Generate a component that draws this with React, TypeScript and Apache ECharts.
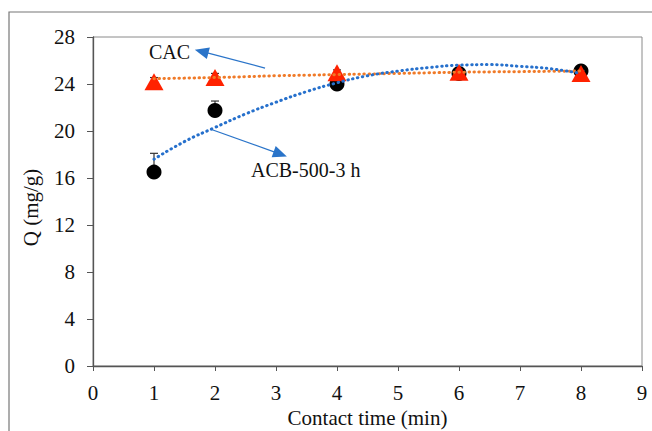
import React, { useEffect, useRef } from "react";
import * as echarts from "echarts";

const contactTime = [1, 2, 4, 6, 8];
const acbQ = [16.5, 21.75, 24.0, 24.9, 25.1];
const acbErrHi = [18.1, 22.55, 24.4, 25.2, 25.4];
const cacQ = [24.2, 24.55, 24.95, 25.0, 24.9];
const cacErrHi = [24.55, 24.9, 25.2, 25.25, 25.15];

const trendX = [1, 1.5, 2, 2.5, 3, 3.5, 4, 4.5, 5, 5.5, 6, 6.5, 7, 7.5, 8];
const acbTrend = [17.6, 19.1, 20.3, 21.45, 22.45, 23.35, 24.1, 24.7, 25.1, 25.4, 25.6, 25.65, 25.5, 25.3, 24.9];
const cacTrend = [24.45, 24.5, 24.55, 24.62, 24.7, 24.75, 24.8, 24.85, 24.9, 24.95, 25.0, 25.03, 25.05, 25.08, 25.1];

const xTicks = [0, 1, 2, 3, 4, 5, 6, 7, 8, 9];
const yTicks = [0, 4, 8, 12, 16, 20, 24, 28];

const FONT = "'Liberation Serif', 'Times New Roman', serif";

export default function App() {
  const ref = useRef<HTMLDivElement>(null);
  useEffect(() => {
    if (!ref.current) return;
    const chart = echarts.init(ref.current, null, { renderer: "svg" });
    const errRender = (color: string) => (params: any, api: any) => {
      const x = api.value(0);
      const lo = api.value(1);
      const hi = api.value(2);
      const p1 = api.coord([x, lo]);
      const p2 = api.coord([x, hi]);
      return {
        type: "group",
        children: [
          { type: "line", shape: { x1: p1[0], y1: p1[1], x2: p2[0], y2: p2[1] }, style: { stroke: color, lineWidth: 1.2 } },
          { type: "line", shape: { x1: p2[0] - 4, y1: p2[1], x2: p2[0] + 4, y2: p2[1] }, style: { stroke: color, lineWidth: 1.2 } },
        ],
      };
    };
    chart.setOption({
      animation: false,
      backgroundColor: "#fff",
      grid: {
        left: 93, top: 37, right: 10, bottom: 65,
        show: true, borderColor: "#8a8a8a", borderWidth: 1,
        outerBoundsMode: "none", containLabel: false,
      },
      xAxis: {
        type: "value", min: xTicks[0], max: xTicks[xTicks.length - 1], interval: 1,
        name: "Contact time (min)", nameLocation: "middle", nameGap: 36,
        nameTextStyle: { fontFamily: FONT, fontSize: 21, color: "#111" },
        axisLine: { show: true, onZero: false, lineStyle: { color: "#555", width: 1.3 } },
        axisTick: { show: true, inside: false, length: 5, lineStyle: { color: "#555" } },
        axisLabel: { fontFamily: FONT, fontSize: 21, color: "#111", margin: 16 },
        splitLine: { show: false },
      },
      yAxis: {
        type: "value", min: yTicks[0], max: yTicks[yTicks.length - 1], interval: 4,
        name: "Q (mg/g)", nameLocation: "middle", nameGap: 52, nameRotate: 90,
        nameTextStyle: { fontFamily: FONT, fontSize: 21, color: "#111", padding: [0, 12, 0, 0] },
        axisLine: { show: true, onZero: false, lineStyle: { color: "#555", width: 1.3 } },
        axisTick: { show: true, inside: false, length: 6, lineStyle: { color: "#555" } },
        axisLabel: { fontFamily: FONT, fontSize: 21, color: "#111", margin: 18 },
        splitLine: { show: false },
      },
      graphic: [
        { type: "polyline", shape: { points: [[9, 431], [9, 12], [652, 12]] }, style: { stroke: "#777", lineWidth: 1.2, fill: "none" }, silent: true },
        { type: "text", left: 149, top: 42, style: { text: "CAC", font: `20px ${FONT}`, fill: "#111" }, z: 20 },
        { type: "text", left: 251, top: 160, style: { text: "ACB-500-3 h", font: `20px ${FONT}`, fill: "#111" }, z: 20 },
      ],
      series: [
        {
          type: "custom", name: "acbErr", renderItem: errRender("#333"), z: 2,
          data: contactTime.map((x, i) => [x, acbQ[i], acbErrHi[i]]),
        },
        {
          type: "scatter", name: "ACB-500-3 h", symbol: "circle", symbolSize: 15,
          itemStyle: { color: "#000", opacity: 1 }, z: 3,
          data: contactTime.map((x, i) => [x, acbQ[i]]),
        },
        {
          type: "custom", name: "cacErr", renderItem: errRender("#333"), z: 4,
          data: contactTime.map((x, i) => [x, cacQ[i], cacErrHi[i]]),
        },
        {
          type: "scatter", name: "CAC", symbol: "triangle", symbolSize: [19, 17],
          itemStyle: { color: "#ff2200", opacity: 1 }, z: 5,
          data: contactTime.map((x, i) => [x, cacQ[i]]),
        },
        {
          type: "line", name: "CAC trend", smooth: true, symbol: "none", z: 6,
          lineStyle: { color: "#f07a28", width: 3, type: [0.5, 4.5], cap: "round" },
          data: trendX.map((x, i) => [x, cacTrend[i]]),
        },
        {
          type: "line", name: "ACB trend", smooth: true, symbol: "none", z: 7,
          lineStyle: { color: "#2670cc", width: 3, type: [0.5, 4.5], cap: "round" },
          data: trendX.map((x, i) => [x, acbTrend[i]]),
        },
        {
          type: "scatter", name: "arrows", data: [], z: 8,
          markLine: {
            silent: true, symbol: ["none", "triangle"], symbolSize: [12, 14],
            label: { show: false },
            lineStyle: { color: "#2a74c9", width: 1.3, type: "solid" },
            data: [
              [{ coord: [2.82, 25.36] }, { coord: [1.78, 26.77] }],
              [{ coord: [1.92, 20.17] }, { coord: [3.07, 18.04] }],
            ],
          },
        },
      ],
    });
    return () => chart.dispose();
  }, []);
  return <div ref={ref} style={{ position: "absolute", left: 0, top: 0, width: 652, height: 431 }} />;
}
